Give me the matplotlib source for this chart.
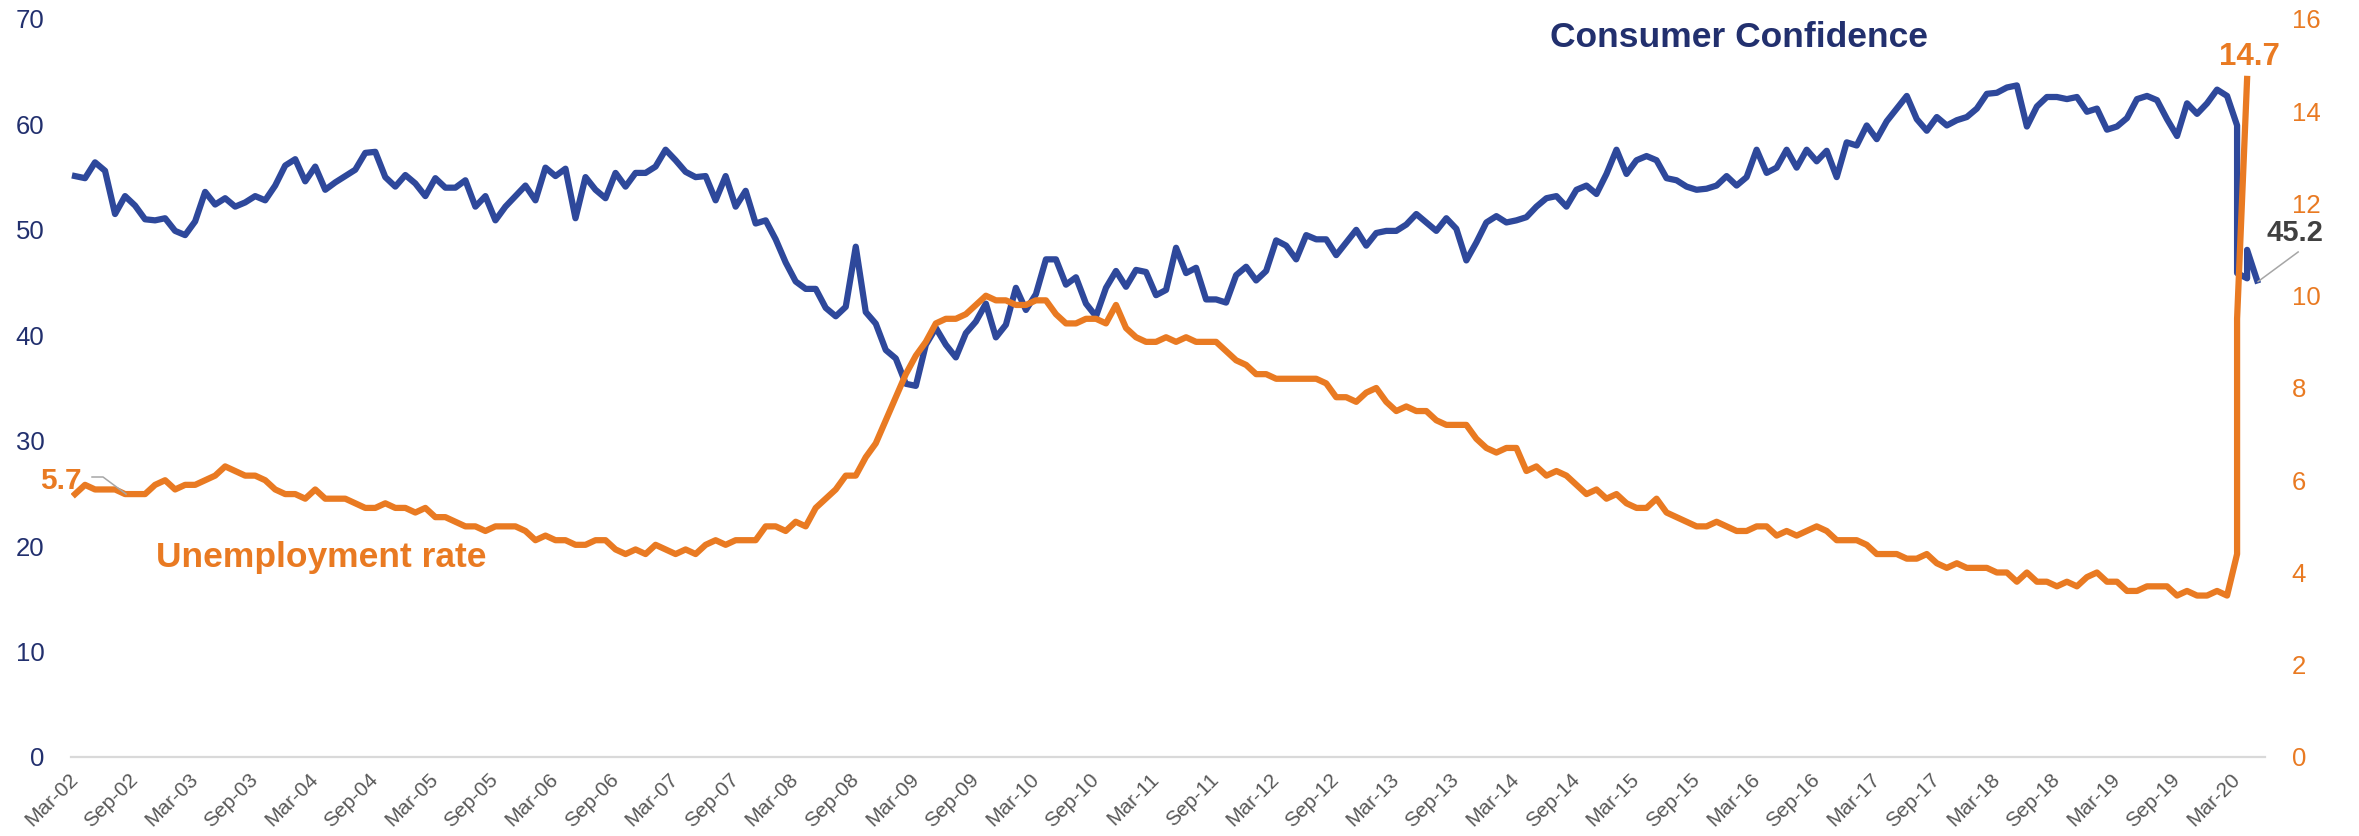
import numpy as np
import pandas as pd
import matplotlib
matplotlib.use('Agg')
import matplotlib.pyplot as plt
import matplotlib.transforms as mtransforms

plt.rcParams['font.family'] = ['Liberation Sans', 'DejaVu Sans']

start = '2002-03'

# consumer confidence, monthly Mar-02 .. Feb-20
conf = [55.1, 54.9, 56.4, 55.6, 51.5, 53.2, 52.3, 51.0, 50.9, 51.1,
        49.9, 49.5, 50.8, 53.6, 52.4, 53.0, 52.2, 52.6, 53.2, 52.8,
        54.2, 56.1, 56.7, 54.6, 56.0, 53.8, 54.5, 55.1, 55.7, 57.3,
        57.4, 55.0, 54.1, 55.2, 54.4, 53.2, 54.9, 54.0, 54.0, 54.7,
        52.2, 53.2, 50.9, 52.2, 53.2, 54.2, 52.8, 55.9, 55.1, 55.8,
        51.1, 55.0, 53.8, 53.0, 55.4, 54.1, 55.4, 55.4, 56.0, 57.6,
        56.6, 55.5, 55.0, 55.1, 52.8, 55.1, 52.2, 53.7, 50.6, 50.9,
        49.1, 46.9, 45.1, 44.4, 44.4, 42.6, 41.8, 42.7, 48.4, 42.2,
        41.1, 38.6, 37.8, 35.4, 35.2, 39.1, 40.7, 39.1, 37.9, 40.2,
        41.3, 43.0, 39.8, 41.0, 44.5, 42.4, 43.9, 47.2, 47.2, 44.8,
        45.5, 43.0, 41.8, 44.5, 46.1, 44.6, 46.2, 46.0, 43.8, 44.3,
        48.3, 45.9, 46.4, 43.4, 43.4, 43.1, 45.7, 46.5, 45.2, 46.1,
        49.0, 48.5, 47.2, 49.5, 49.1, 49.1, 47.6, 48.8, 50.0, 48.5,
        49.7, 49.9, 49.9, 50.5, 51.5, 50.7, 49.9, 51.1, 50.1, 47.1,
        48.8, 50.7, 51.3, 50.7, 50.9, 51.2, 52.2, 53.0, 53.2, 52.2,
        53.8, 54.2, 53.4, 55.3, 57.6, 55.3, 56.6, 57.0, 56.6, 54.9,
        54.7, 54.1, 53.8, 53.9, 54.2, 55.1, 54.2, 55.0, 57.6, 55.4,
        55.9, 57.6, 55.9, 57.6, 56.5, 57.5, 55.0, 58.3, 58.0, 59.9,
        58.6, 60.3, 61.5, 62.7, 60.5, 59.4, 60.7, 59.9, 60.4, 60.7,
        61.5, 62.9, 63.0, 63.5, 63.7, 59.8, 61.7, 62.6, 62.6, 62.4,
        62.6, 61.2, 61.5, 59.5, 59.8, 60.6, 62.4, 62.7, 62.3, 60.5,
        58.9, 62.0, 61.0, 62.0, 63.3, 62.7]
conf_tail_months = ['2020-03', '2020-03', '2020-04', '2020-04', '2020-05']
conf_tail = [59.9, 45.9, 45.4, 48.1, 45.2]

# unemployment rate, monthly Mar-02 .. Feb-20
unemp = [5.7, 5.9, 5.8, 5.8, 5.8, 5.7, 5.7, 5.7, 5.9, 6.0,
         5.8, 5.9, 5.9, 6.0, 6.1, 6.3, 6.2, 6.1, 6.1, 6.0, 5.8, 5.7,
         5.7, 5.6, 5.8, 5.6, 5.6, 5.6, 5.5, 5.4, 5.4, 5.5, 5.4, 5.4,
         5.3, 5.4, 5.2, 5.2, 5.1, 5.0, 5.0, 4.9, 5.0, 5.0, 5.0, 4.9,
         4.7, 4.8, 4.7, 4.7, 4.6, 4.6, 4.7, 4.7, 4.5, 4.4, 4.5, 4.4,
         4.6, 4.5, 4.4, 4.5, 4.4, 4.6, 4.7, 4.6, 4.7, 4.7, 4.7, 5.0,
         5.0, 4.9, 5.1, 5.0, 5.4, 5.6, 5.8, 6.1, 6.1, 6.5, 6.8, 7.3,
         7.8, 8.3, 8.7, 9.0, 9.4, 9.5, 9.5, 9.6, 9.8, 10.0, 9.9, 9.9,
         9.8, 9.8, 9.9, 9.9, 9.6, 9.4, 9.4, 9.5, 9.5, 9.4, 9.8, 9.3,
         9.1, 9.0, 9.0, 9.1, 9.0, 9.1, 9.0, 9.0, 9.0, 8.8, 8.6, 8.5,
         8.3, 8.3, 8.2, 8.2, 8.2, 8.2, 8.2, 8.1, 7.8, 7.8, 7.7, 7.9,
         8.0, 7.7, 7.5, 7.6, 7.5, 7.5, 7.3, 7.2, 7.2, 7.2, 6.9, 6.7,
         6.6, 6.7, 6.7, 6.2, 6.3, 6.1, 6.2, 6.1, 5.9, 5.7, 5.8, 5.6,
         5.7, 5.5, 5.4, 5.4, 5.6, 5.3, 5.2, 5.1, 5.0, 5.0, 5.1, 5.0,
         4.9, 4.9, 5.0, 5.0, 4.8, 4.9, 4.8, 4.9, 5.0, 4.9, 4.7, 4.7,
         4.7, 4.6, 4.4, 4.4, 4.4, 4.3, 4.3, 4.4, 4.2, 4.1, 4.2, 4.1,
         4.1, 4.1, 4.0, 4.0, 3.8, 4.0, 3.8, 3.8, 3.7, 3.8, 3.7, 3.9,
         4.0, 3.8, 3.8, 3.6, 3.6, 3.7, 3.7, 3.7, 3.5, 3.6, 3.5, 3.5,
         3.6, 3.5]
unemp_tail_months = ['2020-03', '2020-03', '2020-04']
unemp_tail = [4.4, 9.5, 14.7]

navy = '#22306E'
blue = '#2E489B'
orange = '#E97A22'
grey_txt = '#595959'


def month_pos(months):
  p0 = pd.Period(start, 'M')
  return [(pd.Period(m, 'M') - p0).n for m in months]


x_conf = list(range(len(conf))) + month_pos(conf_tail_months)
y_conf = conf + conf_tail
x_unemp = list(range(len(unemp))) + month_pos(unemp_tail_months)
y_unemp = unemp + unemp_tail

fig = plt.figure(figsize=(23.59, 8.36), dpi=100)
ax = fig.add_axes([0.0301, 0.0945, 0.9301, 0.8828])
ax2 = ax.twinx()

ax.plot(x_conf, y_conf, color=blue, linewidth=4.5, solid_joinstyle='round')
ax2.plot(x_unemp, y_unemp, color=orange, linewidth=4.5, solid_joinstyle='round')

ax.set_xlim(-0.4, 218.8)
ax.set_ylim(0, 70)
ax2.set_ylim(0, 16)
ax.set_yticks(range(0, 71, 10))
ax2.set_yticks(range(0, 17, 2))

tick_pos = list(range(0, 217, 6))
tick_lab = pd.period_range(start, periods=len(tick_pos), freq='6M').strftime('%b-%y')
ax.set_xticks(tick_pos)
ax.set_xticklabels(tick_lab, rotation=45, ha='right', va='center',
                   rotation_mode='anchor', color=grey_txt, fontsize=15)
shift = mtransforms.ScaledTranslation(9 / 100, 0, fig.dpi_scale_trans)
for lab in ax.get_xticklabels():
  lab.set_transform(lab.get_transform() + shift)

ax.tick_params(axis='x', length=0, pad=14)
ax.tick_params(axis='y', length=0, pad=19, labelsize=18.5, labelcolor=navy)
ax2.tick_params(axis='y', length=0, pad=19, labelsize=18.5, labelcolor=orange)

for a in (ax, ax2):
  for s in ('top', 'left', 'right', 'bottom'):
    a.spines[s].set_visible(False)
ax.spines['bottom'].set_visible(True)
ax.spines['bottom'].set_color('#D9D9D9')
ax.spines['bottom'].set_linewidth(1.6)

# series titles
ax.text(147.4, 67.3, 'Consumer Confidence', color=navy, fontsize=25.5,
        fontweight='bold', ha='left', va='baseline')
ax.text(8.1, 18.0, 'Unemployment rate', color=orange, fontsize=25.5,
        fontweight='bold', ha='left', va='baseline')

# data labels
ax2.text(0.7, 5.81, '5.7', color=orange, fontsize=21.5, fontweight='bold',
         ha='right', va='baseline')
ax2.plot([1.7, 2.8, 5.1], [6.07, 6.07, 5.70], color='#A6A6A6', linewidth=1.1)
ax2.text(217.2, 15.0, '14.7', color=orange, fontsize=22.5, fontweight='bold',
         ha='center', va='baseline', clip_on=False)
ax.text(218.9, 48.9, '45.2', color='#404040', fontsize=21, fontweight='bold',
        ha='left', va='baseline', clip_on=False)
ax.plot([218.1, 222.1], [45.1, 47.9], color='#A6A6A6', linewidth=1.1, clip_on=False)

plt.savefig('out.png', dpi=100)
